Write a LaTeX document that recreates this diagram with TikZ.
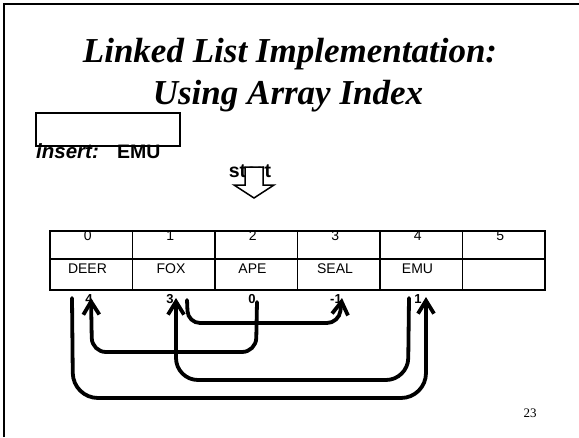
\documentclass[tikz,border=0pt]{standalone}
\usepackage{fontspec}
\setmainfont{Liberation Serif}
\newfontfamily\arialf{Liberation Sans}
\usetikzlibrary{arrows.meta}
\begin{document}
\begin{tikzpicture}[x=1pt,y=-1pt,
  frame/.style={line width=2pt},
  gridln/.style={line width=1.5pt},
  titletext/.style={font=\bfseries\itshape\fontsize{35}{42}\selectfont, anchor=base, inner sep=0pt},
  cellt/.style={font=\arialf\fontsize{14}{16}\selectfont, anchor=base, inner sep=0pt},
  lbl/.style={font=\arialf\bfseries\fontsize{13}{15}\selectfont, anchor=base, inner sep=0pt},
  bigsans/.style={font=\arialf\bfseries\fontsize{19.5}{22}\selectfont, anchor=base west, inner sep=0pt},
  link/.style={line width=3.8pt, line cap=round, rounded corners=#1, -{Straight Barb[length=13pt,width=16pt]}},
]
\useasboundingbox (0,0) rectangle (579,437);
% slide frame
\draw[frame] (4.3,437) -- (4.3,3.7) -- (579,3.7);
% title
\node[titletext] (t1) at (290,62) {Linked List Implementation:};
\node[titletext] (t2) at (288,104) {Using Array Index};
% insert box and text
\node[draw, line width=1.5pt, minimum width=144pt, minimum height=33pt, inner sep=0pt] (insbox) at (108,129.5) {};
\node[bigsans, font=\arialf\bfseries\itshape\fontsize{20.5}{22}\selectfont] (ins) at (36,158) {insert:};
\node[bigsans] (emu) at (117,158) {EMU};
% start label and hollow arrow
\node[bigsans, anchor=base] (start) at (250,177) {start};
\draw[line width=1.5pt, fill=white, line join=miter]
  (245,167) -- (263,167) -- (263,185) -- (274,185) -- (254,198) -- (234,185) -- (245,185) -- cycle;
% table
\draw[gridln] (50,231) rectangle (545,290);
\draw[line width=2.5pt] (50,259) -- (545,259);
\foreach \x in {132.5,215,297.5,380,462.5} \draw[gridln] (\x,231) -- (\x,290);
% index numbers
\foreach \i/\x in {0/87.75,1/170.25,2/252.75,3/335.25,4/417.75,5/500.25}
  \node[cellt] (idx\i) at (\x,240) {\i};
% data
\node[cellt] (d0) at (87.5,273) {DEER};
\node[cellt] (d1) at (171,273) {FOX};
\node[cellt] (d2) at (252.5,273) {APE};
\node[cellt] (d3) at (335,273) {SEAL};
\node[cellt] (d4) at (417.5,273) {EMU};
% next labels
\node[lbl] (n0) at (89,303) {4};
\node[lbl] (n1) at (170,303) {3};
\node[lbl] (n2) at (252,303) {0};
\node[lbl] (n3) at (336,303) {-1};
\node[lbl] (n4) at (418,303) {1};
% link endpoints
\coordinate (As) at (257,302);
\coordinate (Ae) at (91,298);
\coordinate (Bs) at (72,298);
\coordinate (Be) at (426,297);
\coordinate (Cs) at (409,298);
\coordinate (Ce) at (176,298);
\coordinate (Ds) at (187,300);
\coordinate (De) at (342,298);
% links
\draw[link=14pt] (As) -- (256,352) -- (92,352) -- (Ae);
\draw[link=25pt] (Bs) -- (73,398) -- (426,398) -- (Be);
\draw[link=22pt] (Cs) -- (408,380) -- (176,380) -- (Ce);
\draw[link=12pt] (Ds) -- (188,323) -- (339,323) -- (De);
% page number
\node[font=\fontsize{13}{15}\selectfont, anchor=base, inner sep=0pt] (pg) at (530,417) {23};
\end{tikzpicture}
\end{document}
